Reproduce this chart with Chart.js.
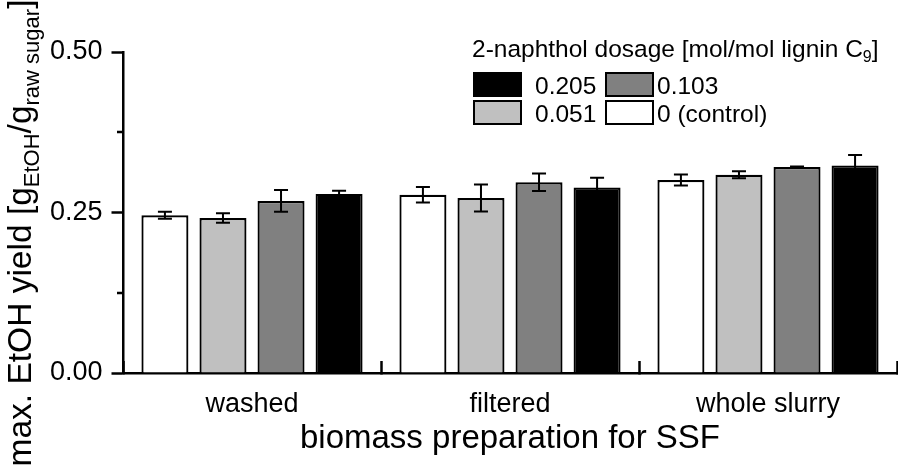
<!DOCTYPE html>
<html><head><meta charset="utf-8">
<script src="https://cdn.jsdelivr.net/npm/chart.js@4.4.1/dist/chart.umd.min.js"></script>
<style>html,body{margin:0;padding:0;background:#fff;overflow:hidden}canvas{display:block}</style>
</head><body>
<canvas id="c" width="898" height="470"></canvas>
<script>
// ---- data ----
const categories = ['washed', 'filtered', 'whole slurry'];
const seriesLabels = ['0 (control)', '0.051', '0.103', '0.205'];
const control = [0.2456, 0.2777, 0.3005];
const dose051 = [0.2415, 0.2726, 0.3088];
const dose103 = [0.268, 0.297, 0.3207];
const dose205 = [0.279, 0.289, 0.3234];
const errControl = [0.0054, 0.012, 0.0086];
const err051 = [0.0073, 0.021, 0.0054];
const err103 = [0.017, 0.0137, 0.001];
const err205 = [0.0047, 0.015, 0.016];
const yTicks = [0, 0.25, 0.5];
const yTickLabels = ['0.00', '0.25', '0.50'];
const yMinorTicks = [0.125, 0.375];

// ---- style ----
const FAM = "'Liberation Sans', Arial, Helvetica, sans-serif";
const fills = ['#ffffff', '#c0c0c0', '#808080', '#000000'];
const values = [control, dose051, dose103, dose205];
const errors = [errControl, err051, err103, err205];

const errorBars = {
  id: 'errorBars',
  afterDatasetsDraw(chart) {
    const ctx = chart.ctx, y = chart.scales.y;
    chart.data.datasets.forEach((ds, di) => {
      const meta = chart.getDatasetMeta(di);
      meta.data.forEach((bar, i) => {
        const v = ds.data[i], e = errors[di][i];
        const yt = y.getPixelForValue(v + e), yb = y.getPixelForValue(v - e);
        ctx.save();
        ctx.strokeStyle = '#000'; ctx.lineWidth = 2;
        ctx.beginPath();
        ctx.moveTo(bar.x, yt); ctx.lineTo(bar.x, yb);
        ctx.moveTo(bar.x - 7, yt); ctx.lineTo(bar.x + 7, yt);
        ctx.moveTo(bar.x - 7, yb); ctx.lineTo(bar.x + 7, yb);
        ctx.stroke();
        ctx.restore();
      });
    });
  }
};

const minorTicks = {
  id: 'minorTicks',
  afterDraw(chart) {
    const ctx = chart.ctx, y = chart.scales.y, left = chart.chartArea.left;
    ctx.save();
    ctx.strokeStyle = '#000'; ctx.lineWidth = 2.5;
    ctx.beginPath();
    yMinorTicks.forEach(v => {
      const py = Math.round(y.getPixelForValue(v));
      ctx.moveTo(left - 6, py); ctx.lineTo(left, py);
    });
    ctx.stroke();
    ctx.restore();
  }
};

const customLegend = {
  id: 'customLegend',
  afterDraw(chart) {
    const ctx = chart.ctx;
    ctx.save();
    ctx.fillStyle = '#000';
    ctx.textBaseline = 'alphabetic';
    ctx.textAlign = 'left';
    const big = '24.5px ' + FAM, small = '16px ' + FAM;
    let x = 472; const y = 57;
    const t = '2-naphthol dosage [mol/mol lignin C';
    ctx.font = big; ctx.fillText(t, x, y); x += ctx.measureText(t).width;
    ctx.font = small; ctx.fillText('9', x, y + 5); x += ctx.measureText('9').width;
    ctx.font = big; ctx.fillText(']', x, y);
    const order = [3, 2, 1, 0];
    const pos = [[473, 72, 535], [605, 72, 657], [473, 100, 535], [605, 100, 657]];
    order.forEach((di, k) => {
      const ds = chart.data.datasets[di];
      const [bx, by, tx] = pos[k];
      ctx.fillStyle = ds.backgroundColor;
      ctx.fillRect(bx, by, 49, 25);
      ctx.strokeStyle = '#000'; ctx.lineWidth = 2;
      ctx.strokeRect(bx + 1, by + 1, 47, 23);
      ctx.fillStyle = '#000';
      ctx.font = big;
      ctx.fillText(ds.label, tx, by + 22);
    });
    ctx.restore();
  }
};

const yTitle = {
  id: 'yTitle',
  afterDraw(chart) {
    const ctx = chart.ctx;
    ctx.save();
    const S = 33.5, s = 22;
    const parts = [['max. EtOH yield [g', S, 0], ['EtOH', s, 8], ['/g', S, 0], ['raw sugar', s, 8], [']', S, 0]];
    let total = 0;
    parts.forEach(p => { ctx.font = p[1] + 'px ' + FAM; p.push(ctx.measureText(p[0]).width); total += p[3]; });
    ctx.translate(31, 233 + total / 2);
    ctx.rotate(-Math.PI / 2);
    ctx.fillStyle = '#000';
    ctx.textBaseline = 'alphabetic';
    ctx.textAlign = 'left';
    let x = 0;
    parts.forEach(p => { ctx.font = p[1] + 'px ' + FAM; ctx.fillText(p[0], x, p[2]); x += p[3]; });
    ctx.restore();
  }
};

new Chart(document.getElementById('c'), {
  type: 'bar',
  data: {
    labels: categories,
    datasets: seriesLabels.map((lab, i) => ({
      label: lab,
      data: values[i],
      backgroundColor: fills[i],
      borderColor: '#000',
      borderWidth: 2.2,
      categoryPercentage: 0.9,
      barPercentage: 0.81
    }))
  },
  options: {
    responsive: false,
    devicePixelRatio: 1,
    animation: false,
    layout: { padding: { top: 52, right: 1, left: 0, bottom: 0 } },
    plugins: { legend: { display: false }, tooltip: { enabled: false } },
    scales: {
      x: {
        grid: { offset: true, drawOnChartArea: false, tickLength: -12, tickWidth: 2.5, tickColor: '#000' },
        border: { color: '#000', width: 2.5 },
        ticks: { color: '#000', font: { family: FAM, size: 27 }, padding: 27.5, maxRotation: 0, autoSkip: false },
        title: { display: true, text: 'biomass preparation for SSF', color: '#000', font: { family: FAM, size: 33 }, padding: { top: 0, bottom: 11 } },
        afterFit: s => { s.height = 97; }
      },
      y: {
        min: 0, max: 0.5,
        afterBuildTicks: s => { s.ticks = yTicks.map(v => ({ value: v })); },
        grid: { drawOnChartArea: false, tickLength: 11.5, tickWidth: 2.5, tickColor: '#000' },
        border: { color: '#000', width: 2.5 },
        ticks: {
          color: '#000', font: { family: FAM, size: 27 }, padding: 9,
          callback: v => { const k = yTicks.indexOf(v); return k >= 0 ? yTickLabels[k] : null; }
        },
        afterFit: s => { s.width = 123; }
      }
    }
  },
  plugins: [errorBars, minorTicks, customLegend, yTitle]
});
</script>
</body></html>
